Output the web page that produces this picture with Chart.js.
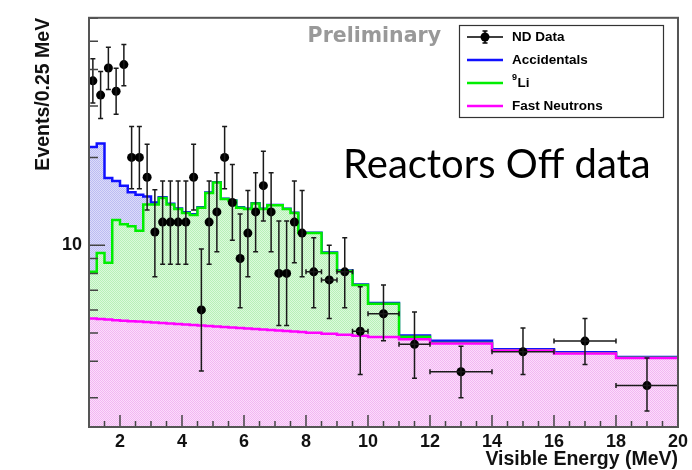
<!DOCTYPE html>
<html>
<head>
<meta charset="utf-8">
<title>Reactors Off data</title>
<script src="https://cdn.jsdelivr.net/npm/chart.js@4.4.1/dist/chart.umd.min.js"></script>
<style>
  html, body { margin: 0; padding: 0; background: #fff; }
  #wrap { width: 692px; height: 470px; }
</style>
</head>
<body>
<div id="wrap"><canvas id="spectrum" width="692" height="470"></canvas></div>
<script>
// bin edges in MeV: 0.25 MeV up to 8 MeV, then wider bins
const binEdges = [1, 1.25, 1.5, 1.75, 2, 2.25, 2.5, 2.75, 3, 3.25, 3.5, 3.75, 4, 4.25, 4.5, 4.75,
    5, 5.25, 5.5, 5.75, 6, 6.25, 6.5, 6.75, 7, 7.25, 7.5, 7.75, 8, 8.5, 9, 9.5, 10, 11, 12, 14, 16, 18, 20];

// ND data, events per 0.25 MeV, with lower / upper edges of the error bars
const dataValues = [36.6, 32.7, 40.5, 33.7, 41.6, 20.0, 20.0, 17.1, 11.1, 12.0,
    12.0, 12.0, 12.0, 17.1, 6.0, 12.0, 13.0, 20.0, 14.0, 9.0,
    11.0, 13.0, 16.0, 13.0, 8.0, 8.0, 12.0, 11.0, 8.1, 7.6,
    8.1, 5.07, 5.82, 4.57, 3.68, 4.31, 4.69, 3.30];
const dataLow = [30.7, 27.2, 34.2, 28.1, 35.2, 15.6, 15.6, 13.2, 7.8, 8.6,
    8.6, 8.6, 8.6, 13.2, 3.7, 8.6, 9.5, 15.6, 10.4, 6.1,
    7.8, 9.5, 12.1, 9.5, 5.3, 5.3, 8.7, 7.8, 6.1, 5.6,
    6.1, 3.6, 4.7, 3.5, 3.0, 3.6, 3.9, 2.7];
const dataHigh = [43.6, 39.4, 47.7, 40.4, 48.8, 25.5, 25.5, 22.2, 15.5, 16.6,
    16.6, 16.6, 16.6, 22.2, 9.7, 16.6, 17.7, 25.5, 18.9, 12.8,
    15.4, 17.7, 21.0, 17.7, 12.1, 12.1, 16.6, 15.4, 10.6, 10.0,
    10.6, 7.2, 7.3, 5.9, 4.5, 5.2, 5.6, 4.1];

// background components per bin (stacked: fast neutrons, then 9Li, then accidentals)
const fastNeutrons = [5.60, 5.58, 5.56, 5.53, 5.51, 5.49, 5.47, 5.45, 5.43, 5.41,
    5.39, 5.37, 5.35, 5.32, 5.30, 5.28, 5.26, 5.24, 5.22, 5.20,
    5.18, 5.16, 5.14, 5.12, 5.10, 5.08, 5.06, 5.04, 5.01, 4.97,
    4.93, 4.89, 4.84, 4.76, 4.60, 4.35, 4.25, 4.10];
const lithium9 = [2.50, 3.82, 3.14, 6.67, 6.29, 6.11, 5.73, 8.35, 8.37, 9.09,
    8.41, 7.93, 7.55, 7.38, 8.15, 9.82, 11.14, 9.16, 8.98, 8.25,
    8.12, 8.74, 8.16, 8.58, 8.60, 8.22, 7.84, 5.96, 5.99, 4.43,
    3.22, 2.41, 1.46, 0.09, 0.02, 0.01, 0.01, 0.01];
const accidentals = [13.6, 12.9, 8.3, 4.4, 4.2, 3.6, 3.7, 0.9, 0.2, 0.1,
    0.08, 0.07, 0.06, 0.06, 0.05, 0.05, 0.05, 0.04, 0.04, 0.04,
    0.04, 0.03, 0.03, 0.03, 0.03, 0.03, 0.03, 0.03, 0.03, 0.03,
    0.03, 0.03, 0.04, 0.05, 0.08, 0.04, 0.03, 0.03];

const xTickValues = [2, 4, 6, 8, 10, 12, 14, 16, 18, 20];
const yTickValues = [3, 4, 5, 6, 7, 8, 9, 10, 20, 30, 40, 50, 60];

const FONT = '"Liberation Sans", Arial, Helvetica, sans-serif';
Chart.defaults.font.family = FONT;

class SpectrumChart {
    constructor() {
        this.centers = binEdges.slice(0, -1).map((e, i) => (e + binEdges[i + 1]) / 2);
        this.initChart();
    }

    // histogram outline: one point per low edge, plus the last upper edge
    stepLine(levels) {
        const pts = levels.map((v, i) => ({ x: binEdges[i], y: v }));
        pts.push({ x: binEdges[binEdges.length - 1], y: levels[levels.length - 1] });
        return pts;
    }

    // fine dotted fill like the ROOT fill style
    stipple(dark, light) {
        const c = document.createElement('canvas');
        c.width = 2;
        c.height = 2;
        const g = c.getContext('2d');
        g.fillStyle = light;
        g.fillRect(0, 0, 2, 2);
        g.fillStyle = dark;
        g.fillRect(0, 0, 1, 1);
        g.fillRect(1, 1, 1, 1);
        return g.createPattern(c, 'repeat');
    }

    initChart() {
        const levelFN = fastNeutrons.slice();
        const levelLi = levelFN.map((v, i) => v + lithium9[i]);
        const levelAcc = levelLi.map((v, i) => v + accidentals[i]);
        const centers = this.centers;

        const histo = (label, levels, line, fill) => ({
            label: label,
            data: this.stepLine(levels),
            stepped: true,
            borderColor: line,
            borderWidth: 2.5,
            pointRadius: 0,
            fill: 'start',
            backgroundColor: fill
        });

        const errorBars = {
            id: 'errorBars',
            afterDatasetsDraw(chart) {
                const { ctx, scales: { x, y } } = chart;
                ctx.save();
                ctx.strokeStyle = '#1a1a1a';
                ctx.lineWidth = 1.5;
                dataValues.forEach((v, i) => {
                    const px = x.getPixelForValue(centers[i]);
                    const py = y.getPixelForValue(v);
                    const hi = y.getPixelForValue(dataHigh[i]);
                    const lo = y.getPixelForValue(dataLow[i]);
                    const l = x.getPixelForValue(binEdges[i]);
                    const r = x.getPixelForValue(binEdges[i + 1]);
                    ctx.beginPath();
                    ctx.moveTo(px, hi); ctx.lineTo(px, lo);
                    ctx.moveTo(px - 2.5, hi); ctx.lineTo(px + 2.5, hi);
                    ctx.moveTo(px - 2.5, lo); ctx.lineTo(px + 2.5, lo);
                    if (px - l > 6) {
                        ctx.moveTo(l, py); ctx.lineTo(r, py);
                        ctx.moveTo(l, py - 2.5); ctx.lineTo(l, py + 2.5);
                        ctx.moveTo(r, py - 2.5); ctx.lineTo(r, py + 2.5);
                    }
                    ctx.stroke();
                });
                ctx.restore();
            }
        };

        const frame = {
            id: 'frame',
            afterDraw(chart) {
                const { ctx, chartArea: a, scales: { x, y } } = chart;
                ctx.save();
                // ticks point into the frame
                ctx.strokeStyle = '#444';
                ctx.lineWidth = 1.5;
                ctx.beginPath();
                for (let e = x.min + 0.5; e < x.max; e += 0.5) {
                    const px = x.getPixelForValue(e);
                    const len = xTickValues.includes(e) ? 12 : 6;
                    ctx.moveTo(px, a.bottom);
                    ctx.lineTo(px, a.bottom - len);
                }
                yTickValues.forEach(v => {
                    const py = y.getPixelForValue(v);
                    ctx.moveTo(a.left, py);
                    ctx.lineTo(a.left + (v === 10 ? 16 : 9), py);
                });
                ctx.stroke();
                ctx.strokeStyle = '#555';
                ctx.lineWidth = 2;
                ctx.strokeRect(a.left, a.top, a.right - a.left, a.bottom - a.top);

                ctx.fillStyle = '#999';
                ctx.font = 'bold 20.5px "DejaVu Sans", sans-serif';
                ctx.textAlign = 'right';
                ctx.textBaseline = 'alphabetic';
                ctx.fillText('Preliminary', 441, 42);

                ctx.fillStyle = '#000';
                ctx.font = '40px Lato, "Open Sans", sans-serif';
                ctx.textAlign = 'left';
                ctx.fillText('Reactors Off data', 343, 178);

                // legend box
                ctx.fillStyle = '#fff';
                ctx.fillRect(459, 25, 204, 92);
                ctx.strokeStyle = '#333';
                ctx.lineWidth = 1.2;
                ctx.strokeRect(459.5, 25.5, 204, 92);
                const rows = chart.data.datasets;
                const order = [0, 3, 2, 1];
                order.forEach((d, k) => {
                    const ds = rows[d];
                    const cy = 37 + k * 23;
                    ctx.lineWidth = d === 0 ? 1.5 : 2.5;
                    ctx.strokeStyle = d === 0 ? '#000' : ds.borderColor;
                    ctx.beginPath();
                    ctx.moveTo(467, cy);
                    ctx.lineTo(503, cy);
                    if (d === 0) {
                        ctx.moveTo(485, cy - 6); ctx.lineTo(485, cy + 6);
                        ctx.moveTo(482.5, cy - 6); ctx.lineTo(487.5, cy - 6);
                        ctx.moveTo(482.5, cy + 6); ctx.lineTo(487.5, cy + 6);
                    }
                    ctx.stroke();
                    if (d === 0) {
                        ctx.fillStyle = '#000';
                        ctx.beginPath();
                        ctx.arc(485, cy, 4.5, 0, Math.PI * 2);
                        ctx.fill();
                    }
                    ctx.fillStyle = '#000';
                    ctx.textBaseline = 'middle';
                    let tx = 512;
                    let text = ds.label;
                    if (text.startsWith('⁹')) {
                        ctx.font = 'bold 9px ' + FONT;
                        ctx.fillText('9', tx, cy - 5);
                        tx += ctx.measureText('9').width + 0.5;
                        text = text.slice(1);
                    }
                    ctx.font = 'bold 13.5px ' + FONT;
                    ctx.fillText(text, tx, cy);
                });
                ctx.restore();
            }
        };

        const tickFont = { family: FONT, size: 18, weight: 'bold' };
        const titleFont = { family: FONT, size: 19.5, weight: 'bold' };

        new Chart(document.getElementById('spectrum'), {
            type: 'line',
            data: {
                datasets: [
                    {
                        label: 'ND Data',
                        data: centers.map((c, i) => ({ x: c, y: dataValues[i] })),
                        showLine: false,
                        pointRadius: 4.5,
                        pointBorderWidth: 0,
                        pointBackgroundColor: '#000',
                        pointBorderColor: '#000'
                    },
                    histo('Fast Neutrons', levelFN, '#ff00ff', this.stipple('#f2b8f2', '#fcdcfc')),
                    histo('⁹Li', levelLi, '#00ee00', this.stipple('#b8f0b8', '#dcfadc')),
                    histo('Accidentals', levelAcc, '#1010ff', this.stipple('#bcbcf2', '#dcdcfa'))
                ]
            },
            options: {
                responsive: false,
                animation: false,
                events: [],
                layout: { padding: { left: 0, top: 13, right: 11, bottom: 0 } },
                scales: {
                    x: {
                        type: 'linear',
                        position: 'bottom',
                        min: 1,
                        max: 20,
                        grid: { display: false, drawTicks: false },
                        border: { display: false },
                        afterBuildTicks: s => { s.ticks = xTickValues.map(v => ({ value: v })); },
                        afterFit: s => { s.height = 43; },
                        ticks: { font: tickFont, color: '#111', padding: 4, autoSkip: false, maxRotation: 0 },
                        title: {
                            display: true,
                            text: 'Visible Energy (MeV)',
                            align: 'end',
                            color: '#111',
                            font: titleFont,
                            padding: { top: 0, bottom: -1.5 }
                        }
                    },
                    y: {
                        type: 'logarithmic',
                        position: 'left',
                        min: 2.38,
                        max: 60.2,
                        grid: { display: false, drawTicks: false },
                        border: { display: false },
                        afterBuildTicks: s => { s.ticks = yTickValues.map(v => ({ value: v })); },
                        afterFit: s => { s.width = 89; },
                        ticks: {
                            font: tickFont,
                            color: '#111',
                            padding: 7,
                            autoSkip: false,
                            callback: v => (v === 10 ? '10' : '')
                        },
                        title: {
                            display: true,
                            text: 'Events/0.25 MeV',
                            align: 'end',
                            color: '#111',
                            font: titleFont,
                            padding: { top: 32, bottom: 0 }
                        }
                    }
                },
                plugins: {
                    legend: { display: false },
                    tooltip: { enabled: false }
                }
            },
            plugins: [errorBars, frame]
        });
    }
}

document.addEventListener('DOMContentLoaded', () => {
    window.spectrumChart = new SpectrumChart();
});
</script>
</body>
</html>
